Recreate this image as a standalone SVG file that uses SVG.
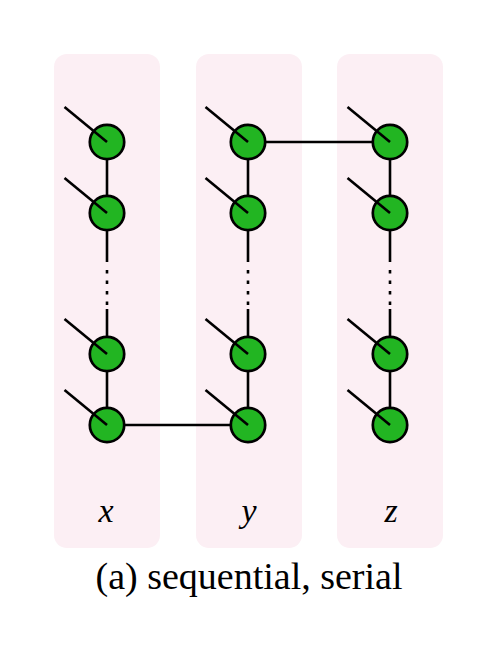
<svg xmlns="http://www.w3.org/2000/svg" width="498" height="668" viewBox="0 0 498 668">
<style>
.panel{fill:#fceff4}
.node circle{fill:#22b522;stroke:#000;stroke-width:2.7}
.leg{stroke:#000;stroke-width:2.6;stroke-linecap:butt}
.conn line{stroke:#000;stroke-width:2.6}
.dots{stroke:#000;stroke-width:3;stroke-dasharray:3.5 7}
.lbl{font-family:'Liberation Serif','Times New Roman',serif;font-style:italic;font-size:34px;text-anchor:middle}
.cap{font-family:'Liberation Serif','Times New Roman',serif;font-size:38px;text-anchor:middle}
</style>
<defs>
<g id="q">
<line class="leg" x1="-42.5" y1="-35" x2="0" y2="0"/>
</g>
</defs>
<rect class="panel" x="54" y="54" width="106" height="494" rx="13"/>
<rect class="panel" x="196" y="54" width="106" height="494" rx="13"/>
<rect class="panel" x="337" y="54" width="106" height="494" rx="13"/>
<g id="connectors" class="conn">
<line x1="107" y1="142" x2="107" y2="262"/>
<line class="dots" x1="107" y1="270" x2="107" y2="306"/>
<line x1="107" y1="309" x2="107" y2="425"/>
<line x1="248" y1="142" x2="248" y2="262"/>
<line class="dots" x1="248" y1="270" x2="248" y2="306"/>
<line x1="248" y1="309" x2="248" y2="425"/>
<line x1="390" y1="142" x2="390" y2="262"/>
<line class="dots" x1="390" y1="270" x2="390" y2="306"/>
<line x1="390" y1="309" x2="390" y2="425"/>
<line x1="107" y1="425" x2="248" y2="425"/>
<line x1="248" y1="142" x2="390" y2="142"/>
</g>
<g id="x1" class="node" transform="translate(107,142)"><circle r="17.2"/><use href="#q"/></g>
<g id="x2" class="node" transform="translate(107,213)"><circle r="17.2"/><use href="#q"/></g>
<g id="x3" class="node" transform="translate(107,354)"><circle r="17.2"/><use href="#q"/></g>
<g id="x4" class="node" transform="translate(107,425)"><circle r="17.2"/><use href="#q"/></g>
<g id="y1" class="node" transform="translate(248,142)"><circle r="17.2"/><use href="#q"/></g>
<g id="y2" class="node" transform="translate(248,213)"><circle r="17.2"/><use href="#q"/></g>
<g id="y3" class="node" transform="translate(248,354)"><circle r="17.2"/><use href="#q"/></g>
<g id="y4" class="node" transform="translate(248,425)"><circle r="17.2"/><use href="#q"/></g>
<g id="z1" class="node" transform="translate(390,142)"><circle r="17.2"/><use href="#q"/></g>
<g id="z2" class="node" transform="translate(390,213)"><circle r="17.2"/><use href="#q"/></g>
<g id="z3" class="node" transform="translate(390,354)"><circle r="17.2"/><use href="#q"/></g>
<g id="z4" class="node" transform="translate(390,425)"><circle r="17.2"/><use href="#q"/></g>
<text class="lbl" x="106" y="522">x</text>
<text class="lbl" x="249" y="522">y</text>
<text class="lbl" x="391" y="522">z</text>
<text class="cap" x="249" y="589">(a) sequential, serial</text>
</svg>
